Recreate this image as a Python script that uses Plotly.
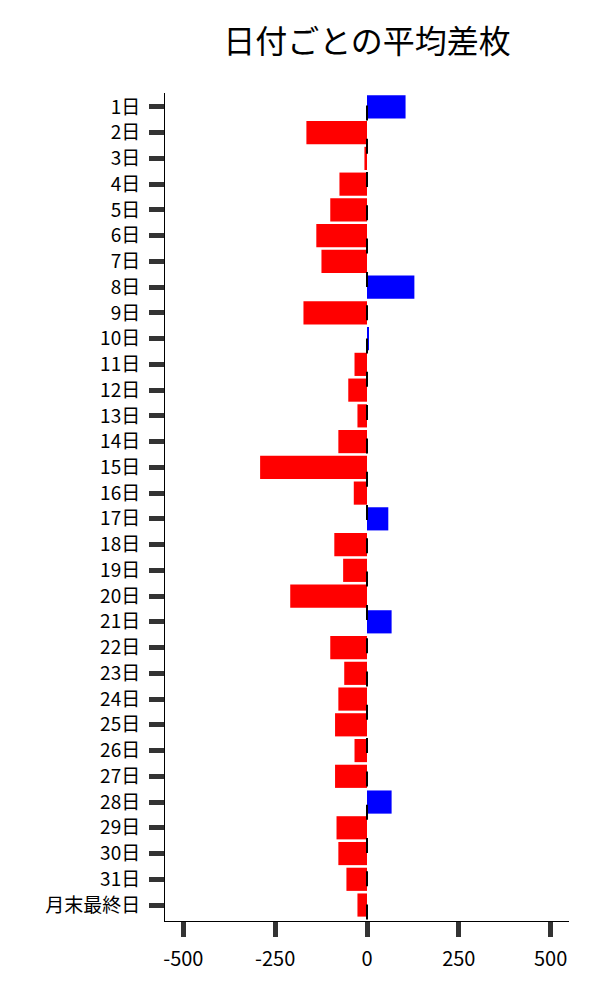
import plotly.graph_objects as go

days = [f"{i}日" for i in range(1, 32)] + ["月末最終日"]
avg_diff = [105, -165, -7, -75, -100, -138, -124, 129, -173, 5,
            -34, -51, -26, -78, -291, -36, 58, -89, -65, -209,
            67, -100, -62, -78, -87, -34, -87, 67, -83, -78,
            -56, -26]
x_ticks = [-500, -250, 0, 250, 500]

colors = ["#0000ff" if v > 0 else "#ff0000" for v in avg_diff]

FONT = "Noto Sans CJK JP"

fig = go.Figure()
fig.add_trace(go.Bar(
    x=avg_diff, y=days, orientation="h",
    marker=dict(color=colors, line=dict(width=0)),
    width=0.9, showlegend=False,
))

fig.add_shape(type="line", xref="x", yref="paper", x0=0, x1=0, y0=0.985, y1=0,
              line=dict(color="black", width=2, dash="15px,18.3px"), layer="above")

fig.update_layout(
    width=600, height=1000,
    paper_bgcolor="white", plot_bgcolor="white",
    margin=dict(l=157, r=39, t=85, b=87),
    title=dict(text="日付ごとの平均差枚", x=0.5, xref="paper", y=0.966, yanchor="middle",
               font=dict(family=FONT, size=32, color="black")),
    font=dict(family=FONT, size=19, color="black"),
    bargap=0.1,
)
fig.update_xaxes(
    range=[-550, 550], tickvals=x_ticks, ticktext=[str(v) for v in x_ticks],
    showgrid=False, zeroline=False, showline=True, linecolor="black", linewidth=1,
    ticks="outside", ticklen=15, tickwidth=5, tickcolor="#333333",
    ticklabelstandoff=5,
    tickfont=dict(family=FONT, size=20, color="black"),
)
fig.update_yaxes(
    type="category", categoryorder="array", categoryarray=days,
    range=[31.62, -0.54],
    showgrid=False, zeroline=False, showline=True, linecolor="black", linewidth=1,
    ticks="outside", ticklen=15, tickwidth=5, tickcolor="#333333",
    ticklabelstandoff=5,
    tickfont=dict(family=FONT, size=19, color="black"),
)

fig.write_html("out.html")
